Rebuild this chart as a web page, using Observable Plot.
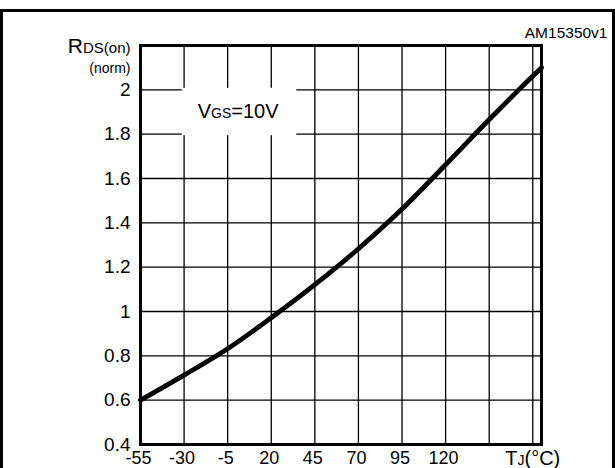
<!DOCTYPE html>
<html><head><meta charset="utf-8">
<script src="https://cdn.jsdelivr.net/npm/d3@7"></script>
<script src="https://cdn.jsdelivr.net/npm/@observablehq/plot@0.6"></script>
<style>
html,body{margin:0;padding:0;background:#fff;overflow:hidden;}
#wrap{position:relative;width:615px;height:468px;overflow:hidden;}
#border{position:absolute;left:0;top:9px;width:615px;height:480px;border:3px solid #000;box-sizing:border-box;}
#chart{position:absolute;left:0;top:0;}
</style></head>
<body>
<div id="wrap"><div id="border"></div><div id="chart"></div></div>
<script>
// Data
const temps = [-55, -30, -5, 20, 45, 70, 95, 120, 145, 170, 175];
const rdsNorm = [0.60, 0.713, 0.832, 0.972, 1.121, 1.283, 1.462, 1.662, 1.866, 2.062, 2.10];
const xTickLabels = [-55, -30, -5, 20, 45, 70, 95, 120];
const xGrid = [-30, -5, 20, 45, 70, 95, 120, 145, 170];
const yTickLabels = [0.4, 0.6, 0.8, 1, 1.2, 1.4, 1.6, 1.8, 2];
const yGrid = [0.6, 0.8, 1, 1.2, 1.4, 1.6, 1.8, 2];
const legendBox = [{x1: -31, x2: 34.6, y1: 1.8, y2: 2.0}];
const legendText = [{x: 1, y: 1.9, label: "VGS=10V"}];
const xUnitLabel = [{x: 170, label: "TJ(°C)"}];
const yUnitLabel = ["RDS(on)"];
const yUnitLabel2 = ["(norm)"];
const docId = ["AM15350v1"];

const data = temps.map((t, i) => ({t, r: rdsNorm[i]}));

const fmt = d => String(d);
const plot = Plot.plot({
  width: 615,
  height: 468,
  marginLeft: 140,
  marginRight: 74,
  marginTop: 45,
  marginBottom: 24,
  style: {fontFamily: "'Liberation Sans', Arial, sans-serif", fontSize: "18px", overflow: "visible", background: "transparent", color: "#000"},
  x: {domain: [-55, 175]},
  y: {domain: [0.4, 2.2]},
  marks: [
    Plot.ruleX(xGrid, {stroke: "#000", strokeWidth: 1.3}),
    Plot.ruleY(yGrid, {stroke: "#000", strokeWidth: 1.3}),
    Plot.rect(legendBox, {x1: "x1", x2: "x2", y1: "y1", y2: "y2", fill: "white", insetTop: -1.5, insetBottom: -1.5}),
    Plot.text(legendText, {x: "x", y: "y", text: "label", fontSize: 20, fill: "#000"}),
    Plot.line(data, {x: "t", y: "r", curve: "monotone-x", stroke: "#000", strokeWidth: 4.8}),
    Plot.frame({stroke: "#000", strokeWidth: 3}),
    Plot.axisY(yTickLabels, {tickSize: 0, tickPadding: 10, tickFormat: fmt, fontSize: 19, label: null}),
    Plot.axisX(xTickLabels, {tickSize: 0, tickPadding: 7, tickFormat: fmt, fontSize: 18, label: null, dx: -2}),
    Plot.text(xUnitLabel, {x: "x", text: "label", frameAnchor: "bottom", lineAnchor: "top", dy: 7, fontSize: 19, fill: "#000"}),
    Plot.text(yUnitLabel, {text: d => d, frameAnchor: "top-left", textAnchor: "end", lineAnchor: "bottom", dx: -10, dy: 7, fontSize: 20, fill: "#000"}),
    Plot.text(yUnitLabel2, {text: d => d, frameAnchor: "top-left", textAnchor: "end", lineAnchor: "bottom", dx: -10, dy: 27, fontSize: 14, fill: "#000"}),
    Plot.text(docId, {text: d => d, frameAnchor: "top-right", textAnchor: "end", lineAnchor: "bottom", dx: 66, dy: -8, fontSize: 15.5, fill: "#000"})
  ]
});
document.getElementById("chart").appendChild(plot);

// rich text: subscripts drawn as smaller letters on the same baseline
const rich = {
  "RDS(on)": [["R", 21], ["DS(on)", 15]],
  "VGS=10V": [["V", 20], ["GS", 14], ["=10V", 20]],
  "TJ(°C)": [["T", 20], ["J", 14], ["(°C)", 20]]
};
d3.select(plot).selectAll("text").each(function() {
  const parts = rich[this.textContent];
  if (!parts || this.querySelector("tspan")) return;
  const el = d3.select(this);
  el.text(null);
  parts.forEach(([s, fs]) => el.append("tspan").attr("font-size", fs).text(s));
});
</script>
</body></html>
